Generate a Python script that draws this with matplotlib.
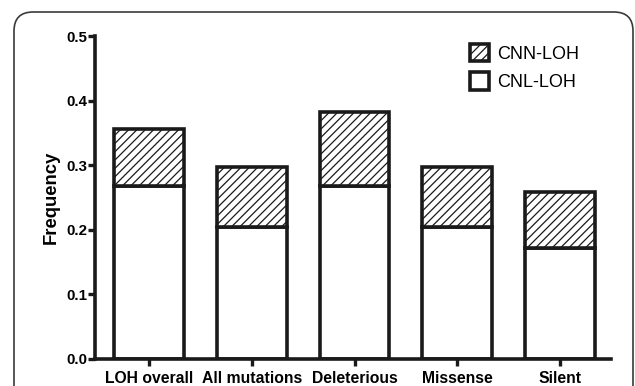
import matplotlib
matplotlib.use("Agg")
import matplotlib.pyplot as plt
from matplotlib.patches import FancyBboxPatch
import numpy as np

categories = ["LOH overall", "All mutations", "Deleterious", "Missense", "Silent"]
cnl_loh = [0.268, 0.205, 0.268, 0.205, 0.172]
cnn_loh = [0.088, 0.092, 0.115, 0.092, 0.086]
yticks = [0.0, 0.1, 0.2, 0.3, 0.4, 0.5]

plt.rcParams['font.family'] = ['Liberation Sans', 'DejaVu Sans']
plt.rcParams['hatch.linewidth'] = 0.9
plt.rcParams['hatch.color'] = '#1a1a1a'

fig = plt.figure(figsize=(6.35, 3.86), dpi=100)
frame = FancyBboxPatch((14/635, -0.1), 619/635, 1 - 12/386 + 0.1,
                       boxstyle="round,pad=0,rounding_size=0.03",
                       transform=fig.transFigure, facecolor='none',
                       edgecolor='#3a3a3a', linewidth=1.2, mutation_aspect=635/386)
fig.patches.append(frame)

ax = fig.add_axes([95/635, 1 - 359/386, (611 - 95)/635, (359 - 36)/386])
x = np.arange(len(categories))
lw = 2.6
b1 = ax.bar(x, cnl_loh, width=0.68, color='white', edgecolor='#1a1a1a', linewidth=lw,
            label='CNL-LOH', zorder=2)
b2 = ax.bar(x, cnn_loh, width=0.68, bottom=cnl_loh, color='white', edgecolor='#1a1a1a',
            linewidth=lw, hatch='////', label='CNN-LOH', zorder=2)

ax.set_xlim(-0.53, 4.5)
ax.set_ylim(0, 0.5)
ax.set_yticks(yticks)
ax.set_yticklabels([f"{v:.1f}" for v in yticks], fontweight='bold', fontsize=10.8)
ax.set_xticks(x)
ax.set_xticklabels(categories, fontweight='bold', fontsize=11.3)
ax.set_ylabel("Frequency", fontweight='bold', fontsize=13.3, labelpad=5)

for s in ['top', 'right']:
    ax.spines[s].set_visible(False)
for s in ['left', 'bottom']:
    ax.spines[s].set_linewidth(2.6)
    ax.spines[s].set_color('#1a1a1a')
ax.tick_params(axis='both', direction='out', length=4.8, width=2.4, color='#1a1a1a')
ax.tick_params(axis='y', pad=0.5)
ax.tick_params(axis='x', pad=4)

leg = ax.legend(handles=[b2, b1], labels=['CNN-LOH', 'CNL-LOH'], loc='upper left',
                bbox_to_anchor=(0.726, 0.976), frameon=False, fontsize=13,
                handlelength=1.1, handleheight=1.1, labelspacing=0.55, handletextpad=0.4,
                borderaxespad=0.0, borderpad=0.0)

fig.savefig("out.png", dpi=100)
